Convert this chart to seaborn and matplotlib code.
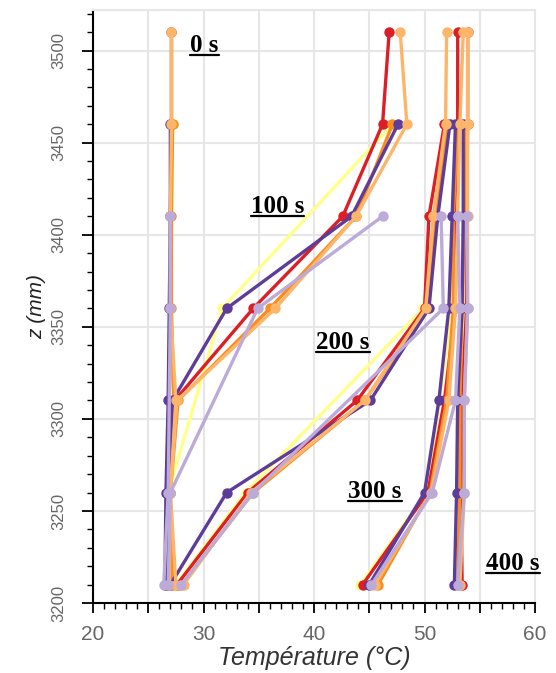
import numpy as np
import pandas as pd
import matplotlib.pyplot as plt
import seaborn as sns
from matplotlib.ticker import MultipleLocator, FuncFormatter
from matplotlib.lines import Line2D

# heights of the probes (mm) and the time steps
z_mm = [3510, 3460, 3410, 3360, 3310, 3260, 3210]
times = ["0 s", "100 s", "200 s", "300 s", "400 s"]
nan = np.nan

# temperature (°C) per probe line, one row per time step, one value per height
yellow = [
    [nan, 27.2, nan, 27.0, nan, 26.8, 26.6],
    [nan, 47.1, nan, 31.7, nan, 26.8, 26.8],
    [nan, 52.2, nan, 49.9, nan, 33.8, 27.5],
    [nan, 53.0, nan, 52.5, nan, 50.2, 44.2],
    [nan, 53.7, nan, 53.5, nan, 53.2, 53.0],
]
red = [
    [27.1, 27.1, 27.0, 27.0, 26.9, 26.8, 26.6],
    [46.8, 46.2, 42.6, 34.5, 27.4, 27.0, 26.8],
    [nan, 51.8, 50.4, 50.0, 43.9, 34.0, 27.6],
    [53.0, 53.0, 52.7, 52.8, 51.8, 50.3, 44.4],
    [53.9, 53.9, 53.8, 53.8, 53.4, 53.3, 53.4],
]
orange = [
    [nan, 27.2, 27.1, 27.1, 27.3, 27.0, 26.8],
    [nan, 47.1, 43.8, 36.0, 27.7, 27.0, 27.2],
    [nan, 52.0, 51.0, 50.3, 44.6, 34.5, 28.0],
    [nan, 53.0, 52.6, 52.6, 52.0, 50.5, 45.8],
    [nan, 53.8, 53.6, 53.4, 53.2, 53.2, 53.0],
]
purple = [
    [nan, 27.0, 27.0, 26.9, 26.8, 26.6, 26.5],
    [nan, 47.6, 43.4, 32.1, 27.2, 26.8, 26.6],
    [nan, 52.3, 51.2, 50.4, 45.1, 32.1, 27.0],
    [nan, 52.8, 52.5, 52.2, 51.3, 50.0, 45.0],
    [nan, 53.5, 53.5, 53.4, 53.0, 52.9, 52.7],
]
light_orange = [
    [27.1, 27.1, 27.0, 27.0, 27.5, 27.0, 26.9],
    [47.8, 48.4, 43.8, 36.5, 27.6, 27.0, 27.5],
    [52.0, 51.9, 50.8, 50.1, 44.6, 34.3, 28.2],
    [53.5, 53.2, 53.0, 52.8, 52.2, 50.6, 45.5],
    [53.9, 53.9, 53.9, 53.9, 53.6, 53.6, 53.2],
]
light_purple = [
    [nan, nan, 27.0, 27.0, nan, 26.8, 26.4],
    [nan, nan, 46.2, 34.9, nan, 27.0, 26.8],
    [nan, nan, 51.5, 51.7, nan, 34.5, 28.0],
    [nan, nan, 53.0, 53.2, 52.8, 50.7, 45.2],
    [nan, nan, 53.8, 53.9, 53.6, 53.6, 53.0],
]

probes = {
    "yellow": yellow,
    "red": red,
    "orange": orange,
    "purple": purple,
    "light_orange": light_orange,
    "light_purple": light_purple,
}
palette = {
    "yellow": "#ffff8a",
    "red": "#dc1f26",
    "orange": "#f98d1f",
    "purple": "#5e3c99",
    "light_orange": "#fdb56a",
    "light_purple": "#bcaad8",
}

rows = []
for name, table in probes.items():
    for t, temps in zip(times, table):
        for z, temp in zip(z_mm, temps):
            rows.append({"probe": name, "time": t, "z": z, "temp": temp})
df = pd.DataFrame(rows).dropna()

sns.set_theme(style="white")
plt.rcParams["font.family"] = ["Liberation Sans", "DejaVu Sans"]

fig = plt.figure(figsize=(5.56, 6.73), dpi=100)
ax = fig.add_axes([0.1673, 0.104, 0.795, 0.881])

sns.lineplot(
    data=df,
    x="temp",
    y="z",
    hue="probe",
    hue_order=list(probes),
    palette=palette,
    units="time",
    estimator=None,
    sort=False,
    marker="o",
    markersize=7.5,
    markeredgewidth=0,
    linewidth=2.4,
    legend=False,
    ax=ax,
)

ax.set_xlim(20, 60)
ax.set_ylim(3200, 3522)
ax.xaxis.set_major_locator(MultipleLocator(5))
ax.xaxis.set_minor_locator(MultipleLocator(1))
ax.xaxis.set_major_formatter(FuncFormatter(lambda v, p: f"{v:.0f}" if v % 10 == 0 else ""))
ax.yaxis.set_major_locator(MultipleLocator(50))
ax.yaxis.set_minor_locator(MultipleLocator(10))

ax.grid(which="major", color="#e6e6e6", linewidth=1.5)
ax.set_axisbelow(True)
for side in ["left", "bottom"]:
    ax.spines[side].set_color("black")
    ax.spines[side].set_linewidth(1.5)
for side in ["top", "right"]:
    ax.spines[side].set_color("#e6e6e6")
    ax.spines[side].set_linewidth(1.5)

ax.tick_params(axis="x", which="major", bottom=True, length=7, width=1.3, color="black",
               labelsize=15, labelcolor="#666666", pad=9)
ax.tick_params(axis="y", which="major", left=True, length=8, width=1.3, color="black",
               labelsize=12, labelcolor="#666666", pad=11, labelrotation=90)
ax.tick_params(which="minor", bottom=True, left=True, length=4, width=1.0, color="black")
for lab in ax.get_yticklabels():
    lab.set_va("center")

ax.set_xlabel("Température (°C)", fontsize=18, style="italic", color="#333333", labelpad=1)
ax.set_ylabel("z (mm)", fontsize=15, style="italic", color="#222222", labelpad=4)

# time labels, underlined
label_x = [28.8, 34.3, 40.2, 43.1, 55.6]
label_z = [3499, 3412, 3338, 3257, 3218]
texts = []
for s, x, z in zip(times, label_x, label_z):
    texts.append(ax.text(x, z, s, ha="left", va="baseline", fontsize=18, weight="bold",
                         family="Liberation Serif", color="black"))

fig.canvas.draw()
renderer = fig.canvas.get_renderer()
inv = fig.transFigure.inverted()
for txt, x, z in zip(texts, label_x, label_z):
    bb = txt.get_window_extent(renderer)
    base_y = ax.transData.transform((x, z))[1] - 3
    (x0, y0), (x1, y1) = inv.transform([(bb.x0, base_y), (bb.x1, base_y)])
    fig.add_artist(Line2D([x0, x1], [y0, y1], color="black", linewidth=1.6,
                          transform=fig.transFigure))

fig.savefig("out.png", dpi=100)
